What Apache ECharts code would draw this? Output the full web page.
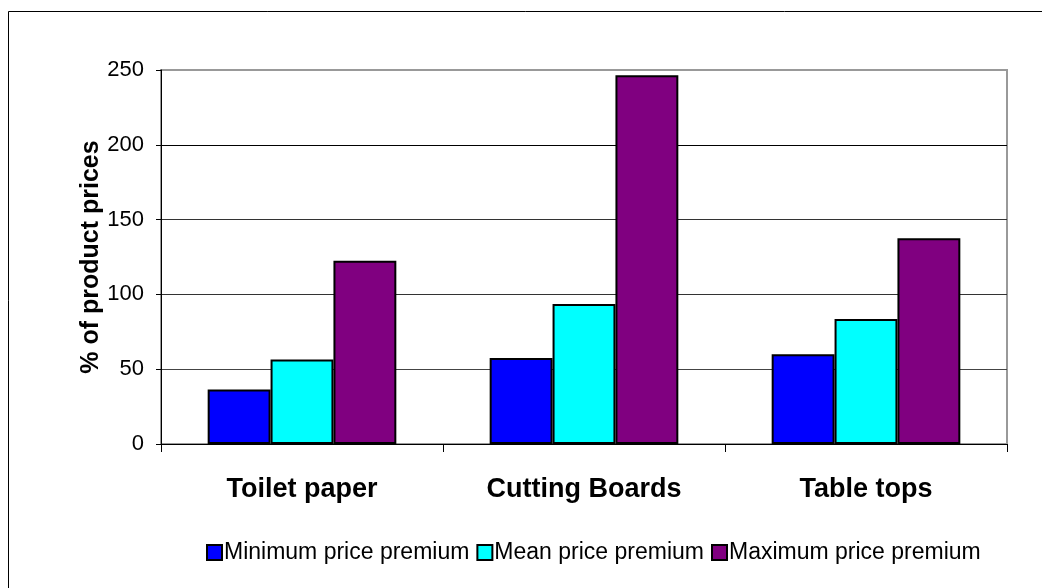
<!DOCTYPE html>
<html>
<head>
<meta charset="utf-8">
<script src="https://cdn.jsdelivr.net/npm/echarts@6/dist/echarts.min.js"></script>
<style>
  html, body { margin: 0; padding: 0; background: #fff; }
  #chart { width: 1042px; height: 588px; }
</style>
</head>
<body>
<div id="chart"></div>
<script>
// Product categories and price premium figures (% of product prices)
const categories = ['Toilet paper', 'Cutting Boards', 'Table tops'];
const minimumPremium = [36.5, 57.5, 60];
const meanPremium = [56.5, 93.5, 83.5];
const maximumPremium = [122.5, 246.5, 137.5];
const seriesNames = ['Minimum price premium', 'Mean price premium', 'Maximum price premium'];
const seriesColors = ['#0000FF', '#00FFFF', '#800080'];
const yTicks = { min: 0, max: 250, interval: 50 };

const FONT = '"Liberation Sans", Arial, sans-serif';
const chart = echarts.init(document.getElementById('chart'), null, { renderer: 'canvas' });

const seriesData = [minimumPremium, meanPremium, maximumPremium];

chart.setOption({
  animation: false,
  backgroundColor: '#fff',
  textStyle: { fontFamily: FONT },
  graphic: [{
    type: 'rect',
    shape: { x: 8.5, y: 11.5, width: 1100, height: 700 },
    style: { fill: 'none', stroke: '#000', lineWidth: 1 },
    z: -10
  }],
  grid: {
    left: 161, right: 35, top: 70, bottom: 144,
    show: true, borderColor: '#999', borderWidth: 2, backgroundColor: 'transparent'
  },
  legend: {
    data: seriesNames,
    top: 536,
    left: 201,
    itemWidth: 15,
    itemHeight: 15,
    itemGap: 7,
    icon: 'rect',
    textStyle: { fontSize: 23, color: '#000', fontFamily: FONT, padding: [0, 0, 0, -3] }
  },
  xAxis: {
    type: 'category',
    data: categories,
    axisLine: { lineStyle: { color: '#000', width: 1 } },
    axisTick: { show: true, length: 8, lineStyle: { color: '#000' } },
    axisLabel: { fontSize: 27, fontWeight: 'bold', color: '#000', margin: 32, fontFamily: FONT },
    splitLine: { show: false }
  },
  yAxis: {
    type: 'value',
    min: yTicks.min, max: yTicks.max, interval: yTicks.interval,
    name: '% of product prices',
    nameLocation: 'middle',
    nameGap: 57,
    nameMoveOverlap: false,
    nameTextStyle: { fontSize: 25, fontWeight: 'bold', color: '#000', fontFamily: FONT },
    axisLine: { show: true, lineStyle: { color: '#000', width: 1 } },
    axisTick: { show: true, length: 5, lineStyle: { color: '#000' } },
    axisLabel: { fontSize: 22, color: '#000', margin: 17, fontFamily: FONT },
    splitLine: {
      show: true,
      lineStyle: { color: ['#000', '#444', '#333', '#333', '#000', '#999'], width: 1 }
    }
  },
  series: seriesNames.map((name, i) => ({
    name: name,
    type: 'bar',
    data: seriesData[i],
    barWidth: '22.3%',
    barGap: '0%',
    itemStyle: { color: seriesColors[i], borderColor: '#000', borderWidth: 2 }
  }))
});
</script>
</body>
</html>
